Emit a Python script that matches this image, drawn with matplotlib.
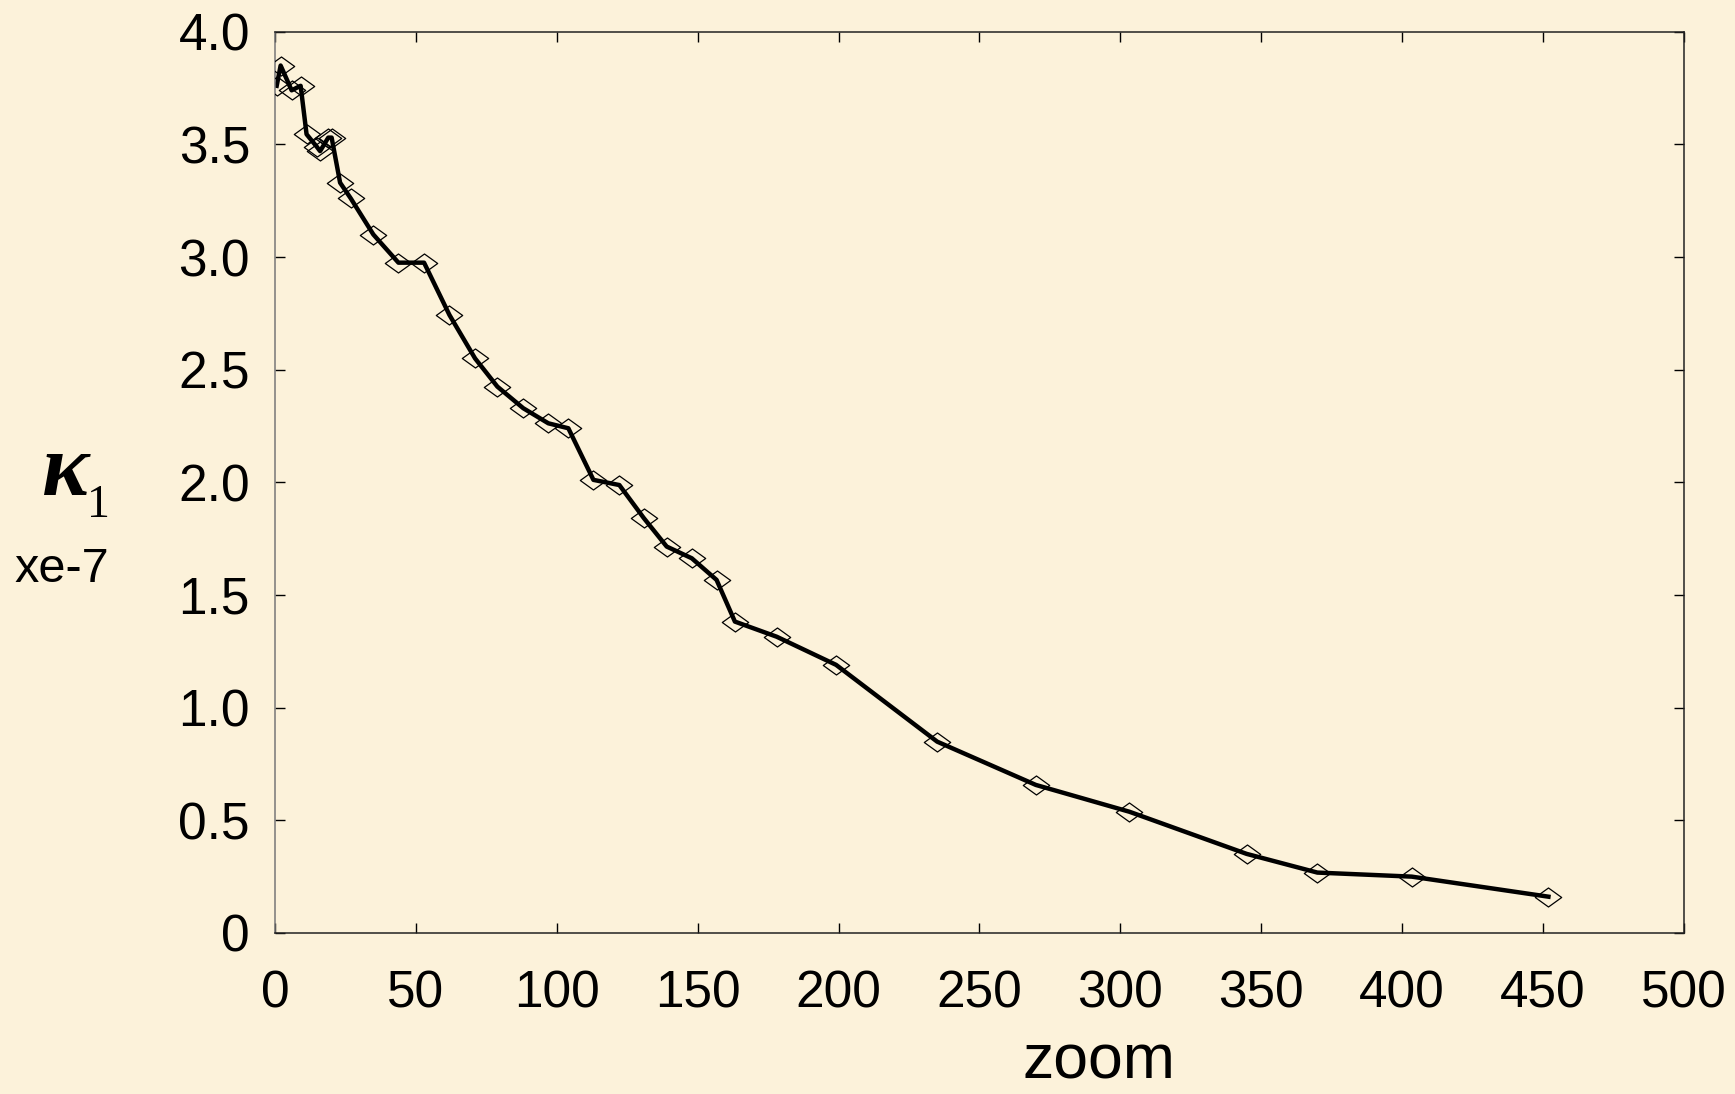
import numpy as np
import matplotlib.pyplot as plt
from matplotlib.path import Path

zoom = [0.6, 2.0, 5.9, 9.1, 11.2, 14.8, 16.0, 18.9, 20.1, 23.1, 26.9, 34.9,
        43.8, 52.9, 61.9, 71.0, 78.9, 88.1, 97.0, 104.1, 113.0, 122.2, 130.9,
        139.0, 147.9, 156.7, 163.2, 178.0, 199.1, 235.0, 270.0, 303.2, 344.8,
        369.9, 403.4, 451.9]
kappa = [3.76, 3.85, 3.74, 3.76, 3.545, 3.49, 3.47, 3.53, 3.53, 3.33, 3.26,
         3.10, 2.975, 2.975, 2.743, 2.55, 2.425, 2.329, 2.262, 2.240, 2.011,
         1.988, 1.841, 1.715, 1.663, 1.567, 1.382, 1.315, 1.190, 0.849, 0.657,
         0.538, 0.351, 0.268, 0.250, 0.161]
xticks = [0, 50, 100, 150, 200, 250, 300, 350, 400, 450, 500]
yticks = [0, 0.5, 1.0, 1.5, 2.0, 2.5, 3.0, 3.5, 4.0]
ylabels = ['0', '0.5', '1.0', '1.5', '2.0', '2.5', '3.0', '3.5', '4.0']

bg = '#FCF2DA'
plt.rcParams['font.family'] = ['Liberation Sans', 'DejaVu Sans']

fig = plt.figure(figsize=(17.35, 10.94), dpi=100, facecolor=bg)
ax = fig.add_axes([0.1585, 0.1472, 0.9706 - 0.1585, 0.971 - 0.1472])
ax.set_facecolor(bg)

# flattened open diamond
diamond = Path([(-1, 0), (0, 0.72), (1, 0), (0, -0.72), (-1, 0)],
               [Path.MOVETO, Path.LINETO, Path.LINETO, Path.LINETO, Path.CLOSEPOLY])

ax.plot(zoom, kappa, color='black', lw=3.2, zorder=2)
ax.plot(zoom, kappa, ls='none', marker=diamond, ms=19, mfc='none',
        mec='black', mew=0.9, zorder=3)

ax.set_xlim(0, 500)
ax.set_ylim(0, 4.0)
ax.set_xticks(xticks)
ax.set_yticks(yticks)
ax.set_yticklabels(ylabels)
ax.tick_params(direction='in', length=7, width=1, top=True, right=True,
               labelsize=37)
ax.tick_params(axis='y', pad=18)
ax.tick_params(axis='x', pad=26)
for s in ax.spines.values():
    s.set_linewidth(1.1)
    s.set_color('#222222')
ax.spines['left'].set_color('#777777')

fig.text(0.6335, 0.002, 'zoom', fontsize=45, ha='center', va='bottom')
fig.text(66 / 1735, 1 - 495 / 1094, '\u03ba', fontsize=64, ha='center',
         va='baseline', family=['Liberation Serif', 'DejaVu Serif'],
         style='italic', weight='bold')
fig.text(98 / 1735, 1 - 517 / 1094, '1', fontsize=33, ha='center',
         va='baseline', family=['Liberation Serif', 'DejaVu Serif'])
fig.text(62 / 1735, 1 - 582 / 1094, 'xe-7', fontsize=35, ha='center',
         va='baseline')

fig.savefig('out.png', dpi=100, facecolor=bg)
